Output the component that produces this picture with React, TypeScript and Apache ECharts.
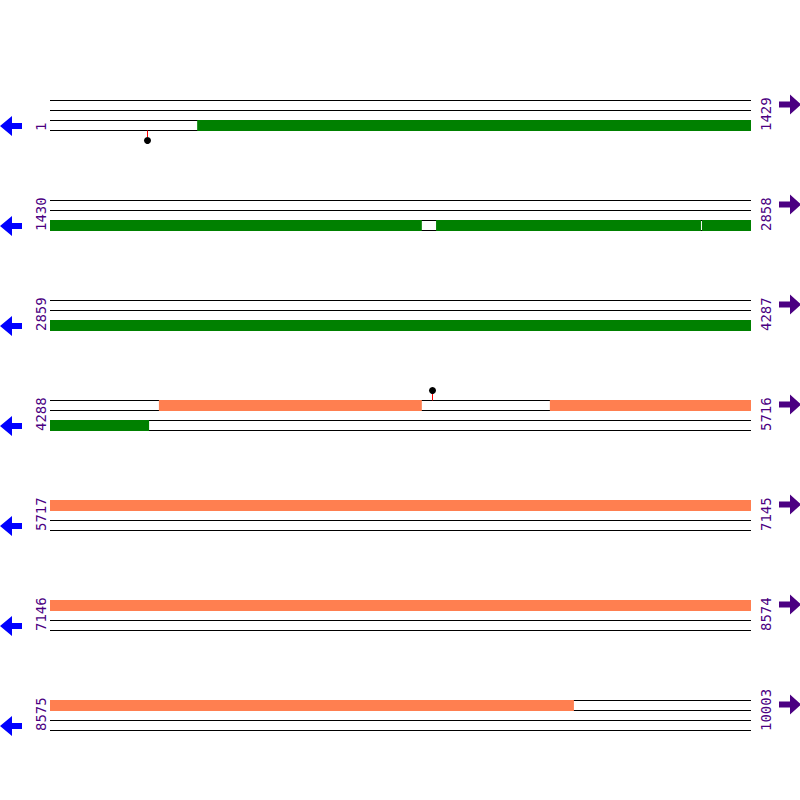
import React, { useEffect, useRef } from "react";
import * as echarts from "echarts";

// ---- data ----
const rowStarts = [1, 1430, 2859, 4288, 5717, 7146, 8575];
const rowEnds = [1429, 2858, 4287, 5716, 7145, 8574, 10003];
// reverse-frame ORF (green) segments, drawn in the bottom track
const greenSegments = [
  [300, 2187],
  [2216, 2756],
  [2758, 4489],
];
const greenTrack = 2;
// forward-frame ORF (coral) segments, drawn in the top track
const orangeSegments = [
  [4509, 5045],
  [5306, 9642],
];
const orangeTrack = 0;
// lollipop markers: position and side
const markerPositions = [198, 5066];
const markerSides = ["below", "above"];

// ---- layout / style ----
const ROW_TOP0 = 100;
const ROW_STEP = 100;
const ROW_H = 30;
const GRID_LEFT = 50;
const GRID_WIDTH = 701;
const GREEN = "#008000";
const CORAL = "#FF7F50";
const LABEL_COLOR = "#4B0082";

function clipSegments(segs: number[][], lo: number, hi: number, track: number, color: string) {
  const out: any[] = [];
  segs.forEach(([s, e]) => {
    const a = Math.max(s, lo);
    const b = Math.min(e, hi);
    if (b > a) out.push({ value: [a, b, track], itemStyle: { color } });
  });
  return out;
}

export default function App() {
  const ref = useRef<HTMLDivElement>(null);
  useEffect(() => {
    if (!ref.current) return;
    const chart = echarts.init(ref.current, undefined, { renderer: "svg" });
    const grids: any[] = [];
    const xAxes: any[] = [];
    const yAxes: any[] = [];
    const series: any[] = [];
    const graphics: any[] = [];

    rowStarts.forEach((start, i) => {
      const end = rowEnds[i];
      const top = ROW_TOP0 + i * ROW_STEP;
      const lo = start - 1;
      grids.push({ left: GRID_LEFT, width: GRID_WIDTH, top, height: ROW_H });
      xAxes.push({ gridIndex: i, type: "value", min: lo, max: end, show: false });
      yAxes.push({
        gridIndex: i,
        type: "value",
        min: 0,
        max: 3,
        interval: 1,
        inverse: true,
        axisLine: { show: false },
        axisTick: { show: false },
        axisLabel: { show: false },
        splitLine: { show: true, lineStyle: { color: "#000", width: 1 } },
      });
      const segData = [
        ...clipSegments(greenSegments, lo, end, greenTrack, GREEN),
        ...clipSegments(orangeSegments, lo, end, orangeTrack, CORAL),
      ];
      series.push({
        type: "custom",
        xAxisIndex: i,
        yAxisIndex: i,
        clip: false,
        data: segData,
        renderItem: (params: any, api: any) => {
          const s = api.value(0);
          const e = api.value(1);
          const t = api.value(2);
          const p0 = api.coord([s, t]);
          const p1 = api.coord([e, t + 1]);
          return {
            type: "rect",
            shape: { x: p0[0], y: p0[1], width: p1[0] - p0[0], height: p1[1] - p0[1] + 1 },
            style: { fill: api.visual("color") },
          };
        },
      });
      const mData: any[] = [];
      markerPositions.forEach((p, k) => {
        if (p > lo && p <= end) mData.push([p, markerSides[k] === "below" ? 1 : -1]);
      });
      if (mData.length) {
        series.push({
          type: "custom",
          xAxisIndex: i,
          yAxisIndex: i,
          clip: false,
          data: mData,
          renderItem: (params: any, api: any) => {
            const p = api.value(0);
            const dir = api.value(1);
            const base = api.coord([p, dir > 0 ? 3 : 0]);
            const tip = api.coord([p, dir > 0 ? 4 : -1]);
            const x = Math.round(base[0]) + 0.5;
            const y0 = base[1] + 0.5;
            return {
              type: "group",
              children: [
                {
                  type: "line",
                  shape: { x1: x, y1: y0, x2: x, y2: tip[1] - dir * 3 },
                  style: { stroke: "#FF0000", lineWidth: 1 },
                },
                {
                  type: "circle",
                  shape: { cx: x, cy: tip[1] + 0.5, r: 3.5 },
                  style: { fill: "#000" },
                },
              ],
            };
          },
        });
      }
      // labels
      graphics.push({
        type: "text",
        x: 41,
        y: top + 31,
        rotation: Math.PI / 2,
        style: {
          text: String(start),
          fill: LABEL_COLOR,
          font: '14px "DejaVu Sans Mono"',
          align: "left",
          verticalAlign: "middle",
        },
      });
      graphics.push({
        type: "text",
        x: 765.5,
        y: top + 31,
        rotation: Math.PI / 2,
        style: {
          text: String(end),
          fill: LABEL_COLOR,
          font: '14px "DejaVu Sans Mono"',
          align: "left",
          verticalAlign: "middle",
        },
      });
      // arrows
      const ly = top + 26;
      graphics.push({
        type: "polygon",
        shape: {
          points: [
            [0, ly],
            [12, ly - 10],
            [12, ly - 3],
            [22, ly - 3],
            [22, ly + 3],
            [12, ly + 3],
            [12, ly + 10],
          ],
        },
        style: { fill: "#0000FF" },
      });
      const ry = top + 4.5;
      graphics.push({
        type: "polygon",
        shape: {
          points: [
            [801, ry],
            [790, ry - 10],
            [790, ry - 3],
            [779, ry - 3],
            [779, ry + 3],
            [790, ry + 3],
            [790, ry + 10],
          ],
        },
        style: { fill: LABEL_COLOR },
      });
    });

    chart.setOption({
      animation: false,
      backgroundColor: "#fff",
      grid: grids,
      xAxis: xAxes,
      yAxis: yAxes,
      series,
      graphic: graphics,
    });
    return () => chart.dispose();
  }, []);
  return (
    <div
      ref={ref}
      style={{ position: "fixed", left: 0, top: 0, width: 800, height: 800 }}
    />
  );
}
